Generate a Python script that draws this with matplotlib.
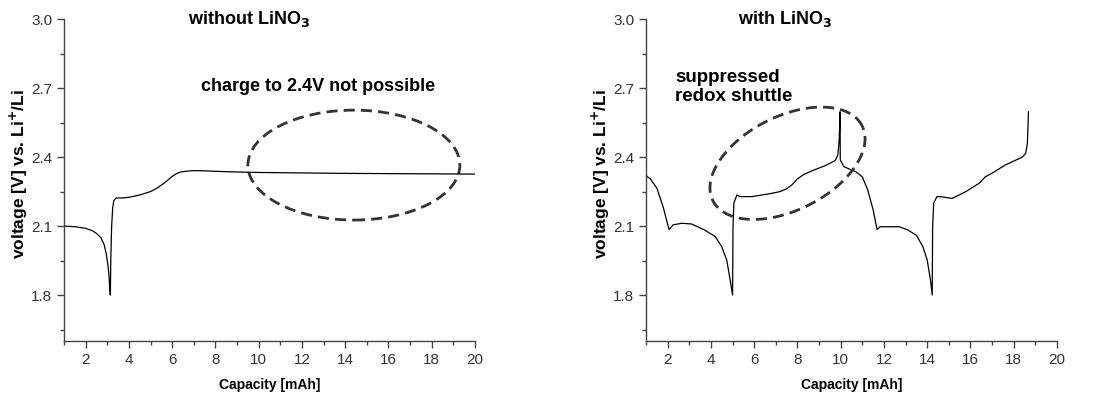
import numpy as np
import matplotlib.pyplot as plt
from matplotlib.patches import Ellipse
from matplotlib.ticker import MultipleLocator

plt.rcParams['font.family'] = ['Liberation Sans', 'DejaVu Sans']

# without LiNO3: one discharge, then charge that never reaches 2.4 V
cap_a = [1.0, 1.5, 2.0, 2.3, 2.5, 2.7, 2.85, 2.95, 3.03, 3.08, 3.12, 3.14, 3.16, 3.2, 3.25,
         3.3, 3.4, 3.7, 4.0, 4.5, 5.0, 5.3, 5.6, 5.8, 6.0, 6.2, 6.4, 6.7, 7.0, 7.5, 8.0,
         9.0, 10.0, 12.0, 14.0, 16.0, 18.0, 20.0]
volt_a = [2.100, 2.097, 2.090, 2.080, 2.068, 2.050, 2.020, 1.980, 1.930, 1.880, 1.820, 1.800,
          1.950, 2.100, 2.180, 2.210, 2.222, 2.222, 2.225, 2.235, 2.250, 2.265, 2.285, 2.300,
          2.316, 2.328, 2.335, 2.339, 2.341, 2.340, 2.338, 2.335, 2.333, 2.331, 2.329, 2.328,
          2.327, 2.326]

# with LiNO3: discharge / charge / discharge / charge
cap_b = [1.0, 1.2, 1.5, 1.8, 2.06, 2.25, 2.65, 3.1, 3.7, 4.2, 4.5, 4.73, 4.89, 5.0, 5.02,
         5.06, 5.2, 5.35, 5.9, 6.8, 7.2, 7.5, 7.75, 8.0, 8.3, 8.67, 9.29, 9.75, 9.87, 9.93,
         9.97, 9.98, 10.15, 10.7, 11.0, 11.25, 11.5, 11.68, 11.83, 12.7, 13.1, 13.5, 13.8,
         14.0, 14.15, 14.23, 14.25, 14.3, 14.45, 14.6, 15.15, 15.77, 16.4, 16.7, 17.0, 17.6,
         18.4, 18.55, 18.63, 18.68]
volt_b = [2.319, 2.305, 2.265, 2.180, 2.085, 2.105, 2.112, 2.109, 2.083, 2.054, 2.010, 1.952,
          1.865, 1.800, 2.097, 2.200, 2.235, 2.228, 2.228, 2.242, 2.250, 2.262, 2.280, 2.305,
          2.325, 2.340, 2.363, 2.385, 2.410, 2.474, 2.597, 2.387, 2.358, 2.336, 2.314, 2.257,
          2.170, 2.085, 2.097, 2.097, 2.083, 2.060, 2.010, 1.952, 1.865, 1.800, 2.097, 2.200,
          2.228, 2.228, 2.220, 2.249, 2.286, 2.315, 2.330, 2.365, 2.400, 2.416, 2.459, 2.597]

ell_color = '#333333'
tick_color = '#444444'

fig = plt.figure(figsize=(10.95, 3.94), dpi=100)
ax1 = fig.add_axes([0.0585, 0.1345, 0.3753, 0.817])
ax2 = fig.add_axes([0.5900, 0.1345, 0.3753, 0.817])

for ax, cap, volt in [(ax1, cap_a, volt_a), (ax2, cap_b, volt_b)]:
    ax.plot(cap, volt, color='black', lw=0.9)
    ax.set_xlim(1, 20)
    ax.set_ylim(1.6, 3.0)
    ax.xaxis.set_major_locator(MultipleLocator(2))
    ax.xaxis.set_minor_locator(MultipleLocator(1))
    ax.yaxis.set_major_locator(MultipleLocator(0.3))
    ax.yaxis.set_minor_locator(MultipleLocator(0.15))
    ax.set_yticks([1.8, 2.1, 2.4, 2.7, 3.0])
    ax.spines['top'].set_visible(False)
    ax.spines['right'].set_visible(False)
    for s in ['left', 'bottom']:
        ax.spines[s].set_color(tick_color)
        ax.spines[s].set_linewidth(1.0)
    ax.tick_params(which='major', direction='out', length=5, width=1, color=tick_color,
                   labelsize=11, labelcolor='#333333')
    ax.tick_params(which='minor', direction='out', length=3, width=1, color=tick_color)
    ax.set_xlabel('Capacity [mAh]', fontsize=10, fontweight='bold', va='center')
    ax.set_ylabel('voltage [V] vs. Li$^{\\mathbf{+}}$/Li', fontsize=12.5, fontweight='bold',
                  va='center')
    ax.xaxis.set_label_coords(0.5, -0.137)
    ax.yaxis.set_label_coords(-0.109, 0.52)

# titles and annotations
ax1.text(9.56, 3.0, 'without LiNO$_\\mathbf{3}$', fontsize=13, fontweight='bold',
         ha='center', va='center')
ax1.text(12.76, 2.709, 'charge to 2.4V not possible', fontsize=13, fontweight='bold',
         ha='center', va='center')
ax2.text(7.43, 3.0, 'with LiNO$_\\mathbf{3}$', fontsize=13, fontweight='bold',
         ha='center', va='center')
ax2.text(2.34, 2.705, 'suppressed\nredox shuttle', fontsize=13.5, fontweight='bold',
         ha='left', va='center', linespacing=1.15)

# dashed ellipse, axis aligned (left)
ax1.add_patch(Ellipse((14.4, 2.365), 9.8, 0.478, fill=False, edgecolor=ell_color,
                      lw=2.0, linestyle=(0, (4, 2.2))))

# dashed ellipse, tilted in screen space (right)
fig.canvas.draw()
x0, y0 = ax2.transData.transform((1, 1.6))
x1, y1 = ax2.transData.transform((2, 1.9))
sx, sy = x1 - x0, (y1 - y0) / 0.3
a, b, th = 83.5, 46.9, np.deg2rad(26.6)
t = np.linspace(0, 2 * np.pi, 300)
ex = 7.54 + (a * np.cos(t) * np.cos(th) - b * np.sin(t) * np.sin(th)) / sx
ey = 2.373 + (a * np.cos(t) * np.sin(th) + b * np.sin(t) * np.cos(th)) / sy
ax2.plot(ex, ey, color=ell_color, lw=2.0, linestyle=(0, (4, 2.2)))

fig.savefig('out.png', dpi=100)
